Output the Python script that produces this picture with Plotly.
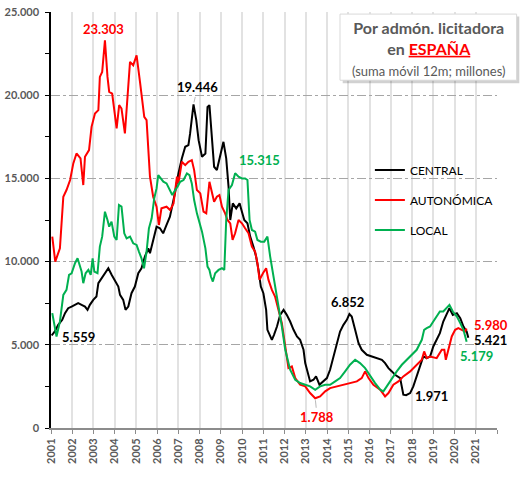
import plotly.graph_objects as go

# ---------------- data (suma móvil 12m; millones) ----------------
central_t = [2001.03, 2001.18, 2001.34, 2001.53, 2001.66, 2001.81, 2001.97, 2002.13, 2002.28, 2002.44,
             2002.60, 2002.72, 2002.83, 2002.99, 2003.14, 2003.23, 2003.38, 2003.54, 2003.70, 2003.86,
             2004.01, 2004.17, 2004.25, 2004.40, 2004.51, 2004.64, 2004.79, 2004.95, 2005.11, 2005.26,
             2005.42, 2005.58, 2005.66, 2005.81, 2005.97, 2006.13, 2006.28, 2006.44, 2006.60, 2006.85,
             2007.00, 2007.16, 2007.32, 2007.47, 2007.55, 2007.71, 2007.84, 2007.95, 2008.11, 2008.27,
             2008.37, 2008.46, 2008.58, 2008.68, 2008.81, 2008.97, 2009.12, 2009.25, 2009.36, 2009.44,
             2009.56, 2009.72, 2009.88, 2009.99, 2010.10, 2010.25, 2010.38, 2010.53, 2010.66, 2010.77,
             2010.88, 2011.00, 2011.13, 2011.19, 2011.32, 2011.40, 2011.50, 2011.64, 2011.79, 2011.95,
             2012.10, 2012.26, 2012.42, 2012.58, 2012.73, 2012.89, 2012.97, 2013.12, 2013.20, 2013.36,
             2013.48, 2013.64, 2013.80, 2013.99, 2014.14, 2014.30, 2014.46, 2014.61, 2014.77, 2014.93,
             2015.05, 2015.16, 2015.32, 2015.48, 2015.63, 2015.87, 2016.11, 2016.34, 2016.58, 2016.73,
             2016.89, 2017.05, 2017.20, 2017.44, 2017.59, 2017.72, 2017.91, 2018.06, 2018.22, 2018.38,
             2018.53, 2018.69, 2018.85, 2019.00, 2019.16, 2019.31, 2019.47, 2019.63, 2019.76, 2019.92,
             2020.11, 2020.27, 2020.42, 2020.57, 2020.65]
central_v = [5559, 5800, 6200, 6500, 6900, 7200, 7300, 7400, 7500, 7400,
             7300, 7100, 7400, 7700, 7900, 8700, 9000, 9300, 9600, 9200,
             8900, 8500, 8000, 7700, 7100, 7300, 8100, 8500, 9300, 9600,
             10300, 10800, 10500, 11200, 12100, 12000, 11700, 12200, 12700, 14200,
             15300, 16200, 16900, 17000, 17700, 19446, 18500, 17300, 16300, 16500,
             19300, 19400, 17100, 15700, 15500, 16300, 17200, 16200, 14500, 12500,
             13500, 13200, 13500, 13000, 12500, 12300, 11500, 10900, 10300, 9500,
             8500, 8100, 7100, 5900, 5500, 5300, 5600, 6100, 6800, 7100,
             6800, 6400, 5900, 5500, 5300, 4700, 3900, 3100, 2800, 2900,
             3100, 2600, 2800, 3000, 3500, 4300, 5100, 5800, 6200, 6500,
             6852, 6700, 5900, 5100, 4700, 4400, 4300, 4200, 4100, 3900,
             3600, 3400, 3200, 3000, 2000, 1971, 2100, 2500, 3100, 3800,
             4300, 4200, 4300, 4900, 5300, 5700, 6400, 6900, 7200, 6800,
             6900, 6600, 6100, 5800, 5421]

auto_t = [2001.06, 2001.20, 2001.42, 2001.58, 2001.73, 2001.90, 2002.05, 2002.20, 2002.39, 2002.52,
          2002.60, 2002.79, 2002.91, 2003.07, 2003.23, 2003.30, 2003.41, 2003.54, 2003.66, 2003.74,
          2003.88, 2004.09, 2004.21, 2004.32, 2004.48, 2004.72, 2004.87, 2005.03, 2005.19, 2005.39,
          2005.50, 2005.66, 2005.81, 2005.97, 2006.08, 2006.20, 2006.44, 2006.61, 2006.77, 2006.93,
          2007.00, 2007.16, 2007.32, 2007.47, 2007.63, 2007.74, 2007.87, 2008.03, 2008.18, 2008.31,
          2008.46, 2008.58, 2008.68, 2008.81, 2008.93, 2009.05, 2009.20, 2009.31, 2009.44, 2009.55,
          2009.67, 2009.83, 2009.99, 2010.14, 2010.30, 2010.46, 2010.61, 2010.72, 2010.82, 2010.98,
          2011.13, 2011.24, 2011.40, 2011.55, 2011.71, 2011.87, 2012.03, 2012.18, 2012.34, 2012.50,
          2012.73, 2012.97, 2013.20, 2013.44, 2013.67, 2013.91, 2014.14, 2014.46, 2014.77, 2015.08,
          2015.40, 2015.63, 2015.79, 2015.95, 2016.18, 2016.50, 2016.73, 2016.89, 2017.12, 2017.36,
          2017.59, 2017.91, 2018.22, 2018.46, 2018.57, 2018.69, 2018.85, 2019.16, 2019.40, 2019.52,
          2019.59, 2019.71, 2019.87, 2020.03, 2020.18, 2020.34, 2020.50, 2020.57]
auto_v = [11500, 10000, 10800, 13900, 14300, 14900, 15900, 16500, 16200, 14600,
          16300, 16700, 18100, 18900, 19100, 21100, 21400, 23303, 21100, 20200,
          20100, 18000, 19400, 19200, 17700, 22000, 21800, 22400, 20800, 18700,
          18500, 15100, 13900, 13300, 12200, 13200, 13300, 13100, 13500, 15100,
          14700, 16000, 15800, 16000, 16100, 15500, 14300, 14100, 13000, 12900,
          14800, 14100, 13600, 13900, 14000, 13300, 12900, 12500, 12300, 11300,
          11700, 12500, 12300, 12000, 11700, 10900, 10600, 9900, 8900, 9300,
          9600, 8900, 8300, 7900, 7100, 6300, 4900, 3600, 3700, 3000,
          2600, 2500, 2100, 1788, 1900, 2200, 2400, 2500, 2600, 2700,
          2800, 3000, 3400, 3000, 2600, 2300, 1900, 2100, 2600, 2800,
          3100, 3400, 3800, 4100, 4600, 4200, 4300, 4200, 4700, 4700,
          4100, 4700, 5500, 5900, 6000, 5900, 5800, 5980]

local_t = [2001.06, 2001.15, 2001.26, 2001.42, 2001.58, 2001.73, 2001.85, 2001.97, 2002.13, 2002.25,
           2002.36, 2002.44, 2002.52, 2002.63, 2002.76, 2002.87, 2002.96, 2003.04, 2003.19, 2003.30,
           2003.41, 2003.54, 2003.66, 2003.74, 2003.85, 2003.98, 2004.09, 2004.20, 2004.32, 2004.45,
           2004.56, 2004.72, 2004.87, 2005.03, 2005.14, 2005.26, 2005.38, 2005.50, 2005.61, 2005.74,
           2005.86, 2005.97, 2006.05, 2006.18, 2006.29, 2006.44, 2006.60, 2006.71, 2006.85, 2006.96,
           2007.08, 2007.24, 2007.40, 2007.52, 2007.63, 2007.74, 2007.87, 2007.99, 2008.11, 2008.27,
           2008.37, 2008.46, 2008.53, 2008.62, 2008.73, 2008.89, 2009.05, 2009.16, 2009.25, 2009.36,
           2009.52, 2009.67, 2009.83, 2009.99, 2010.14, 2010.25, 2010.35, 2010.46, 2010.61, 2010.72,
           2010.88, 2011.04, 2011.19, 2011.32, 2011.45, 2011.55, 2011.61, 2011.76, 2011.87, 2012.03,
           2012.26, 2012.50, 2012.73, 2012.97, 2013.20, 2013.44, 2013.67, 2013.91, 2014.14, 2014.38,
           2014.61, 2014.85, 2015.08, 2015.32, 2015.55, 2015.79, 2016.03, 2016.26, 2016.50, 2016.65,
           2016.81, 2017.05, 2017.28, 2017.52, 2017.75, 2017.99, 2018.22, 2018.46, 2018.57, 2018.69,
           2018.85, 2019.00, 2019.16, 2019.31, 2019.47, 2019.63, 2019.76, 2019.92, 2020.11, 2020.27,
           2020.42, 2020.57]
local_v = [6900, 6200, 5500, 6400, 8000, 8300, 9200, 9300, 9900, 10200,
           9700, 9400, 8700, 9300, 9500, 9200, 10200, 9400, 9300, 10900,
           11500, 13000, 12500, 12100, 12400, 11500, 11300, 13400, 13300, 11700,
           11400, 11500, 11100, 11000, 10600, 10200, 9600, 10600, 12000, 12600,
           13800, 14400, 15200, 15000, 14800, 14700, 14300, 14000, 14300, 14500,
           14800, 14900, 15300, 15200, 14700, 13700, 12900, 12300, 11800, 10800,
           9700, 9500, 9100, 8800, 9300, 9500, 9600, 9500, 12500, 14300,
           14600, 15315, 15100, 15000, 15000, 14900, 12500, 11900, 11800, 11300,
           11200, 11200, 11500, 10300, 9300, 8700, 8100, 6900, 6100, 4700,
           3500, 2900, 2700, 2600, 2500, 2300, 2500, 2600, 2600, 2800,
           3000, 3400, 3800, 4100, 3900, 3600, 3100, 2700, 2300, 2200,
           2500, 3000, 3400, 3800, 4100, 4400, 4700, 5300, 5900, 6000,
           6100, 6400, 6700, 7000, 7000, 7200, 7400, 7000, 6700, 6300,
           5900, 5179]

series_names = ["CENTRAL", "AUTONÓMICA", "LOCAL"]
series_colors = ["#000000", "#FF0000", "#00B050"]
year_ticks = list(range(2001, 2023))
year_labels = [str(y) if y < 2022 else "" for y in year_ticks]

FONT = "Lato, Liberation Sans, sans-serif"
GRAY = "#595959"


def fmt(v):
    return f"{int(round(v)):,}".replace(",", ".")


fig = go.Figure()
for name, col, t, v in zip(series_names, series_colors,
                           [central_t, auto_t, local_t], [central_v, auto_v, local_v]):
    fig.add_trace(go.Scatter(x=t, y=v, mode="lines", name=name, legendgroup=name,
                             line=dict(color=col, width=2)))


def idx_extreme(t, v, lo, hi, fn):
    cand = [i for i in range(len(t)) if lo <= t[i] <= hi]
    return fn(cand, key=lambda i: v[i])


anns = []


def label(t, v, i, col, xs, ys, arrow=False):
    x, y = t[i], v[i]
    d = dict(x=x, y=y, text="<b>" + fmt(y) + "</b>", font=dict(family=FONT, size=13, color=col))
    if arrow:
        d.update(showarrow=True, arrowhead=0, arrowwidth=0.8, arrowcolor="#a6a6a6",
                 ax=xs, ay=-ys, standoff=2)
    else:
        d.update(showarrow=False, xshift=xs, yshift=ys)
    anns.append(d)


BLACK, RED, GREEN = series_colors
label(auto_t, auto_v, idx_extreme(auto_t, auto_v, 2001, 2021, max), RED, -1, 11)
label(central_t, central_v, idx_extreme(central_t, central_v, 2001, 2021, max), BLACK, 4, 17, arrow=True)
label(local_t, local_v, idx_extreme(local_t, local_v, 2001, 2021, max), GREEN, 24, 13)
label(central_t, central_v, 0, BLACK, 27, -1)
label(central_t, central_v, idx_extreme(central_t, central_v, 2013, 2016, max), BLACK, -2, 12)
label(auto_t, auto_v, idx_extreme(auto_t, auto_v, 2012, 2015, min), RED, 2, -19, arrow=True)
label(central_t, central_v, idx_extreme(central_t, central_v, 2016, 2019, min), BLACK, 25, -1)
label(auto_t, auto_v, len(auto_t) - 1, RED, 24, 3)
label(central_t, central_v, len(central_t) - 1, BLACK, 22, -2)
label(local_t, local_v, len(local_t) - 1, GREEN, 10, -14)

# title box text
anns.append(dict(
    xref="paper", yref="paper", x=0.846, y=0.912, showarrow=False,
    align="center", xanchor="center", yanchor="middle",
    text=("<b>Por admón. licitadora</b><br>"
          "<b>en <span style='color:#FF0000'><u>ESPAÑA</u></span></b><br>"
          "<span style='font-size:13px'>(suma móvil 12m; millones)</span>"),
    font=dict(family=FONT, size=16, color=GRAY),
))

shapes = [
    dict(type="rect", xref="paper", yref="paper", x0=0.654, x1=1.050, y0=0.829, y1=0.989,
         line=dict(width=0), fillcolor="rgba(0,0,0,0.18)", layer="above"),
    dict(type="rect", xref="paper", yref="paper", x0=0.648, x1=1.044, y0=0.836, y1=0.995,
         line=dict(width=1, color="#d9d9d9"), fillcolor="white", layer="above"),
]

fig.update_layout(
    width=532, height=491,
    margin=dict(l=51, r=35, t=12, b=63, autoexpand=False),
    paper_bgcolor="white", plot_bgcolor="white",
    separators=",.",
    font=dict(family=FONT, color=GRAY),
    showlegend=True,
    legend=dict(x=0.715, y=0.655, xanchor="left", yanchor="top",
                bgcolor="rgba(0,0,0,0)", tracegroupgap=11,
                font=dict(family=FONT, size=12, color="#000000")),
    annotations=anns,
    shapes=shapes,
)

fig.update_xaxes(
    range=[2001, 2022], tickmode="array", tickvals=year_ticks, ticktext=year_labels,
    tickangle=-90, tickfont=dict(family=FONT, size=11, color=GRAY, weight="bold"),
    showgrid=True, gridcolor="#e2e2e2", gridwidth=2,
    showline=True, linecolor="#8c8c8c", linewidth=2, automargin=False,
    ticks="outside", ticklen=4, tickcolor="#8c8c8c", zeroline=False,
    ticklabeloverflow="allow",
)
fig.update_yaxes(
    range=[0, 25000], dtick=5000, tickformat=",d",
    tickfont=dict(family=FONT, size=11, color=GRAY, weight="bold"),
    showgrid=True, gridcolor="#a6a6a6", gridwidth=1, griddash="dashdot",
    showline=True, linecolor="#000000", linewidth=1.5, automargin=False,
    ticks="outside", ticklen=4, tickcolor="#000000", zeroline=False,
    ticklabeloverflow="allow", ticklabelstandoff=4,
    minor=dict(dtick=2500, ticks="outside", ticklen=4, tickcolor="#000000", showgrid=False),
)

fig.write_html("out.html", config={"displayModeBar": False},
               post_script="document.body.style.margin='0';")
